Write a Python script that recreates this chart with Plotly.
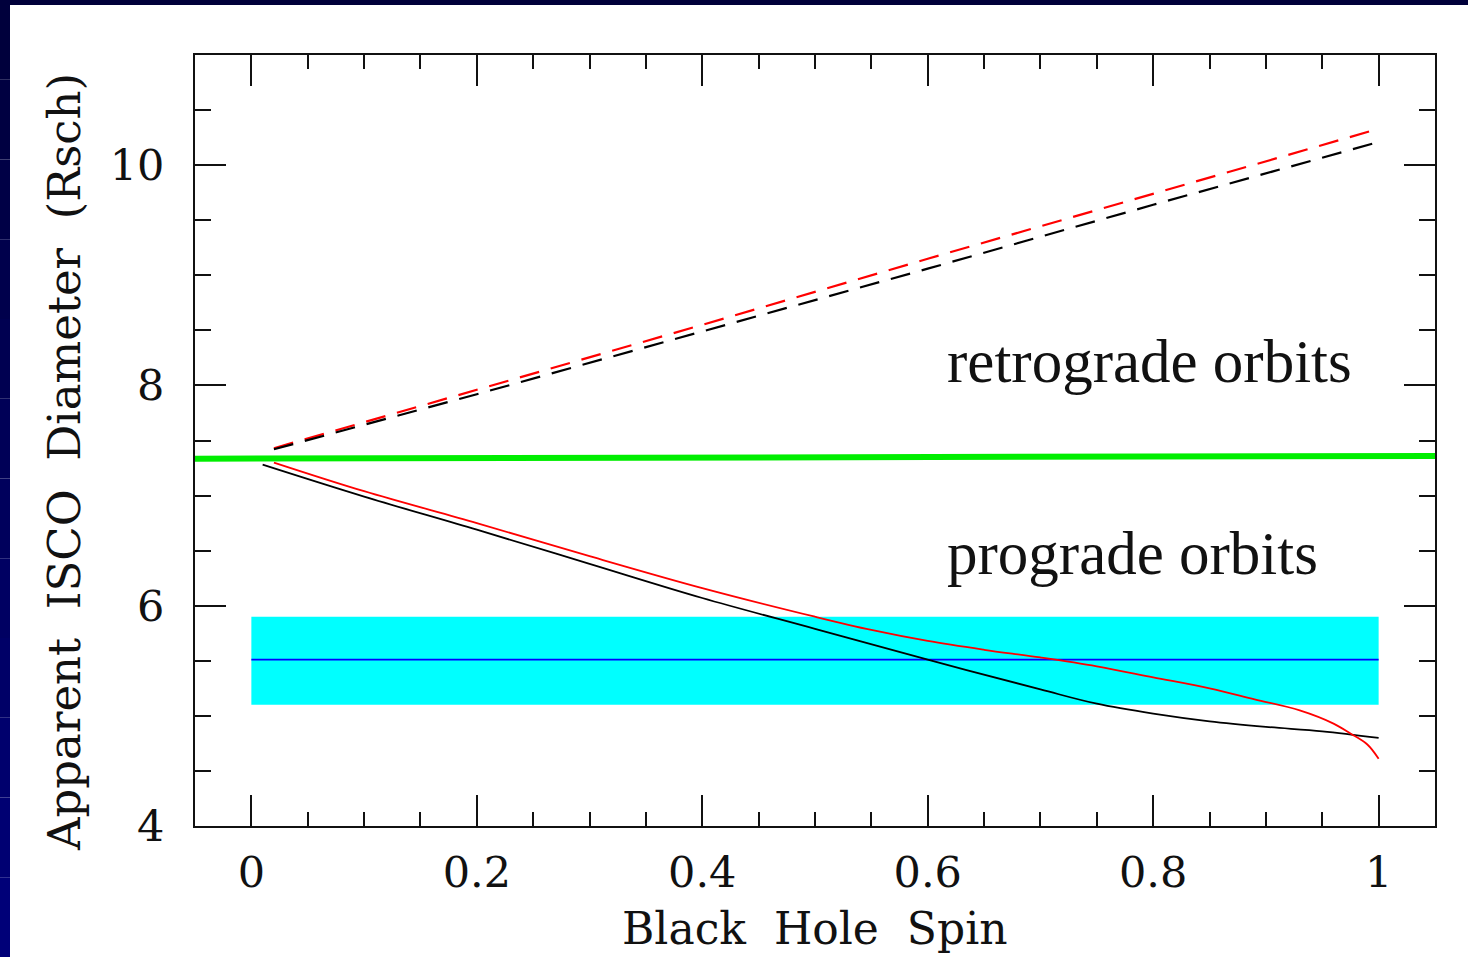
import plotly.graph_objects as go

# ---- data ----
spin_pro_black = [0.01, 0.1, 0.2, 0.3, 0.4, 0.5, 0.6, 0.7, 0.75, 0.8, 0.85, 0.9, 0.95, 1.0]
isco_pro_black = [7.28, 6.99, 6.69, 6.38, 6.07, 5.79, 5.51, 5.24, 5.11, 5.02, 4.95, 4.90, 4.86, 4.80]

spin_pro_red = [0.02, 0.1, 0.2, 0.3, 0.4, 0.5, 0.55, 0.6, 0.65, 0.7, 0.75, 0.8, 0.85, 0.89, 0.93, 0.96, 0.975, 0.99, 1.0]
isco_pro_red = [7.30, 7.04, 6.75, 6.45, 6.16, 5.90, 5.78, 5.68, 5.60, 5.53, 5.45, 5.35, 5.25, 5.15, 5.05, 4.93, 4.84, 4.74, 4.61]

spin_retro = [0.02, 0.2, 0.4, 0.6, 0.8, 1.0]
isco_retro_red = [7.43, 7.96, 8.55, 9.15, 9.74, 10.33]
isco_retro_black = [7.42, 7.92, 8.49, 9.06, 9.64, 10.21]

green_x = [-0.05, 1.05]
green_y = [7.335, 7.36]

band_x = [0.0, 1.0]
band_low = 5.1
band_high = 5.9
band_mid = 5.51

x_ticks = [0, 0.2, 0.4, 0.6, 0.8, 1]
x_tick_text = ["0", "0.2", "0.4", "0.6", "0.8", "1"]
y_ticks = [4, 6, 8, 10]
y_tick_text = ["4", "6", "8", "10"]

W, H = 1468, 957
ML, MR, MT, MB = 195, 33, 55, 131
PW, PH = W - ML - MR, H - MT - MB

fig = go.Figure()

# cyan band
fig.add_trace(go.Scatter(x=[band_x[0], band_x[1], band_x[1], band_x[0], band_x[0]],
                         y=[band_low, band_low, band_high, band_high, band_low],
                         fill="toself", fillcolor="#00ffff", line=dict(width=0),
                         mode="lines", hoverinfo="skip", showlegend=False))
fig.add_trace(go.Scatter(x=band_x, y=[band_mid, band_mid], mode="lines",
                         line=dict(color="#0000ff", width=1.8), showlegend=False))

fig.add_trace(go.Scatter(x=spin_retro, y=isco_retro_red, mode="lines",
                         line=dict(color="#ff0000", width=2.2, dash="20px,12px"), showlegend=False))
fig.add_trace(go.Scatter(x=spin_retro, y=isco_retro_black, mode="lines",
                         line=dict(color="#000000", width=2.2, dash="20px,12px"), showlegend=False))

fig.add_trace(go.Scatter(x=green_x, y=green_y, mode="lines",
                         line=dict(color="#00ee00", width=6), showlegend=False, cliponaxis=False))

fig.add_trace(go.Scatter(x=spin_pro_black, y=isco_pro_black, mode="lines", line_shape="spline",
                         line=dict(color="#000000", width=1.8), showlegend=False))
fig.add_trace(go.Scatter(x=spin_pro_red, y=isco_pro_red, mode="lines", line_shape="spline",
                         line=dict(color="#ff0000", width=1.8), showlegend=False))

tickfont = dict(family="DejaVu Serif, serif", size=43, color="#111111")
titlefont = dict(family="DejaVu Serif, serif", size=44, color="#111111")

axis_common = dict(showgrid=False, zeroline=False, showline=True, linecolor="#111111", linewidth=2,
                   mirror="ticks", ticks="inside", tickcolor="#111111", tickwidth=2, ticklen=31,
                   tickfont=tickfont)

fig.update_xaxes(range=[-0.05, 1.05], tickvals=x_ticks, ticktext=x_tick_text,
                 minor=dict(dtick=0.05, tick0=0, ticklen=14, ticks="inside", tickcolor="#111111", tickwidth=2),
                 ticklabelstandoff=7, **axis_common)
fig.update_yaxes(range=[4, 11], tickvals=y_ticks, ticktext=y_tick_text,
                 minor=dict(dtick=0.5, tick0=4, ticklen=16, ticks="inside", tickcolor="#111111", tickwidth=2),
                 ticklabelstandoff=20, **axis_common)

# navy border strips (top and left)
def px_x(p):
    return (p - ML) / PW

def px_y(p):
    return 1 - (p - MT) / PH

shapes = [dict(type="rect", xref="paper", yref="paper", x0=px_x(0), x1=px_x(W), y0=px_y(0), y1=px_y(5),
               fillcolor="#00003a", line=dict(width=0), layer="above")]
n = 12
for i in range(n):
    t = i / (n - 1)
    b = int(0x3c + t * (0x78 - 0x3c))
    y0p = i * H / n
    y1p = (i + 1) * H / n
    shapes.append(dict(type="rect", xref="paper", yref="paper", x0=px_x(0), x1=px_x(10),
                       y0=px_y(y1p), y1=px_y(y0p), fillcolor=f"rgb(0,0,{b})",
                       line=dict(width=0), layer="above"))

annotations = [
    dict(text="retrograde orbits", x=0.615, y=8.22, xref="x", yref="y", xanchor="left", yanchor="middle",
         showarrow=False, font=dict(family="Liberation Serif, Times New Roman, serif", size=61, color="#111111")),
    dict(text="prograde orbits", x=0.615, y=6.47, xref="x", yref="y", xanchor="left", yanchor="middle",
         showarrow=False, font=dict(family="Liberation Serif, Times New Roman, serif", size=61, color="#111111")),
    dict(text="Black  Hole  Spin", x=0.5, y=px_y(928), xref="paper", yref="paper", xanchor="center",
         yanchor="middle", showarrow=False, font=titlefont),
    dict(text="Apparent  ISCO  Diameter  (Rsch)", x=px_x(64), y=px_y(462), xref="paper", yref="paper",
         xanchor="center", yanchor="middle", textangle=-90, showarrow=False,
         font=dict(family="DejaVu Serif, serif", size=45, color="#111111")),
]

fig.update_layout(width=W, height=H, margin=dict(l=ML, r=MR, t=MT, b=MB, pad=0),
                  paper_bgcolor="white", plot_bgcolor="white", shapes=shapes,
                  annotations=annotations, showlegend=False)

fig.write_html("out.html", config={"displayModeBar": False},
               post_script="document.body.style.margin='0';document.body.style.overflow='hidden';")
